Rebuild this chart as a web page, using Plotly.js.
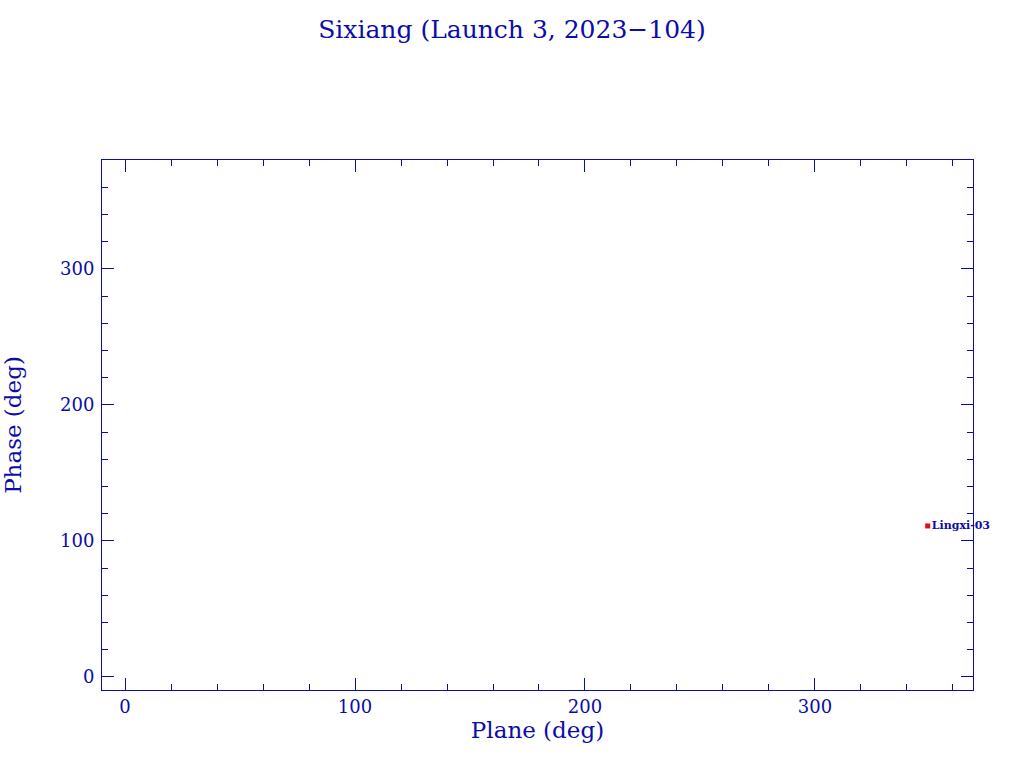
<!DOCTYPE html>
<html>
<head>
<meta charset="utf-8">
<script src="https://cdn.plot.ly/plotly-3.0.1.min.js"></script>
<style>html,body{margin:0;padding:0;background:#fff;}#chart{width:1024px;height:768px;}</style>
</head>
<body>
<div id="chart"></div>
<script>
const names = ["Lingxi-03"];
const planeDeg = [349];
const phaseDeg = [111];
const xTicks = [0, 100, 200, 300];
const yTicks = [0, 100, 200, 300];

const blue = "#0C0CA8";
const axisCommon = {
  showgrid: false, zeroline: false, showline: true, linecolor: blue, linewidth: 1,
  mirror: "ticks", ticks: "inside", ticklen: 12, tickcolor: blue, tickwidth: 1,
  tickfont: {family: "DejaVu Serif", size: 18, color: blue},
  minor: {dtick: 20, ticks: "inside", ticklen: 6, tickcolor: blue, tickwidth: 1}
};

const trace = {
  x: planeDeg, y: phaseDeg, text: names, mode: "markers+text", type: "scatter",
  textposition: "middle right",
  textfont: {family: "DejaVu Serif", size: 11, color: blue, weight: "bold"},
  marker: {symbol: "square", size: 5, color: "#E01010"},
  cliponaxis: false, hoverinfo: "skip"
};

const layout = {
  width: 1024, height: 768,
  margin: {l: 102, r: 51, t: 160, b: 78},
  paper_bgcolor: "#fff", plot_bgcolor: "#fff",
  showlegend: false,
  title: {text: "Sixiang (Launch 3, 2023\u2212104)", x: 0.5, xanchor: "center", y: 0.962, yanchor: "middle",
          font: {family: "DejaVu Serif", size: 25, color: blue}},
  xaxis: Object.assign({}, axisCommon, {
    range: [-10, 368.7], tickvals: xTicks, ticktext: xTicks.map(String),
    title: {text: "Plane (deg)", font: {family: "DejaVu Serif", size: 23, color: blue}, standoff: 6}
  }),
  yaxis: Object.assign({}, axisCommon, {
    range: [-9.6, 380], tickvals: yTicks, ticktext: yTicks.map(String), ticklabelstandoff: 3,
    title: {text: "Phase (deg)", font: {family: "DejaVu Serif", size: 23, color: blue}, standoff: 34}
  })
};

Plotly.newPlot("chart", [trace], layout, {staticPlot: true});
</script>
</body>
</html>
